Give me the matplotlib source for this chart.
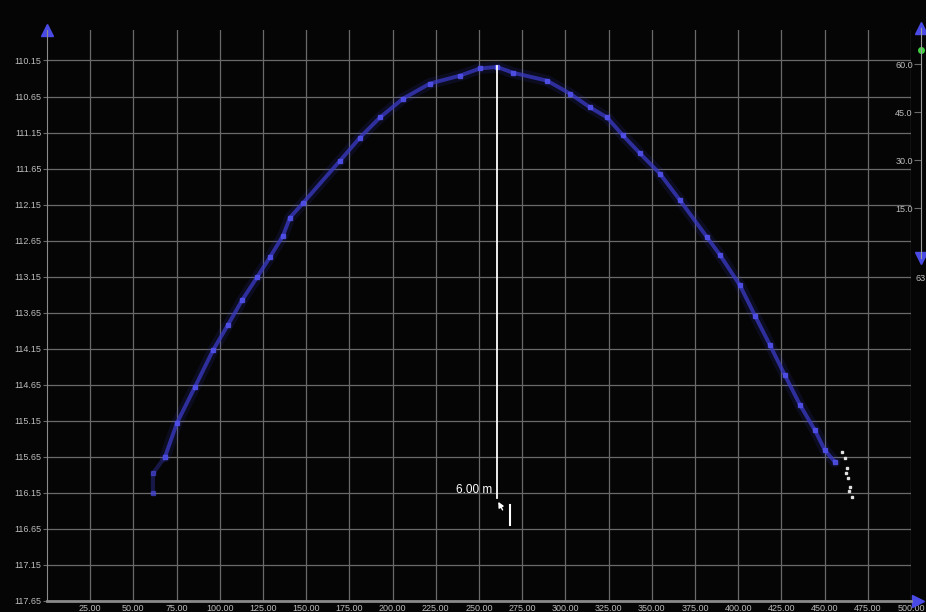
import numpy as np
import matplotlib.pyplot as plt

# Profile (distance along track, depth)
left_x = [61.3, 61.3, 68.3, 75.2, 85.6, 96.1, 104.7, 112.8, 121.5, 129.0,
          136.6, 140.6, 148.1, 169.6, 181.1, 192.7, 206.0, 221.6, 239.0, 250.6, 260.4]
left_d = [116.15, 115.88, 115.65, 115.18, 114.68, 114.17, 113.82, 113.48, 113.16, 112.88,
          112.58, 112.33, 112.13, 111.54, 111.22, 110.94, 110.68, 110.47, 110.36, 110.26, 110.24]
right_x = [260.4, 269.7, 289.4, 302.7, 314.2, 324.1, 333.3, 343.2, 354.7, 366.3,
           381.9, 389.5, 401.0, 409.7, 418.4, 427.1, 435.8, 444.4, 450.2, 456.0]
right_d = [110.24, 110.32, 110.43, 110.61, 110.80, 110.94, 111.19, 111.44, 111.72, 112.09,
           112.60, 112.85, 113.27, 113.69, 114.10, 114.52, 114.93, 115.28, 115.56, 115.72]
# white returns at the far right end
tail_x = [460.1, 461.8, 463.0, 462.4, 463.5, 464.7, 464.1, 465.9]
tail_d = [115.58, 115.67, 115.81, 115.88, 115.95, 116.07, 116.13, 116.21]

# measurement line
meas_x = 260.4
meas_top = 110.22
meas_len = 6.00

y_ticks = [110.15, 110.65, 111.15, 111.65, 112.15, 112.65, 113.15, 113.65,
           114.15, 114.65, 115.15, 115.65, 116.15, 116.65, 117.15, 117.65]
x_ticks = list(range(25, 525, 25))

# colour scale on the right
scale_ticks = [15.0, 30.0, 45.0, 60.0]
scale_marker = 64.5

BG = '#050505'
GRID = '#6a6a6a'
TXT = '#bdbdbd'
BLUE = '#3a3ac8'

fig = plt.figure(figsize=(9.26, 6.12), dpi=100, facecolor=BG)
W, H = 926, 612
ax = fig.add_axes([47 / W, 1 - 601 / H, (911 - 47) / W, (601 - 29.5) / H], facecolor=BG)
ax.set_xlim(0, 500)
ax.set_ylim(117.65, 109.72)

ax.set_yticks(y_ticks)
ax.set_yticklabels([f"{v:.2f}" for v in y_ticks])
ax.set_xticks(x_ticks)
ax.set_xticklabels([f"{v:.2f}" for v in x_ticks])
ax.tick_params(axis='y', colors=GRID, labelcolor=TXT, labelsize=6.5, length=3, pad=1)
ax.tick_params(axis='x', colors=GRID, labelcolor=TXT, labelsize=6.5, length=0, pad=2)
for t in ax.get_yticklabels() + ax.get_xticklabels():
    t.set_fontfamily('Liberation Sans')

ax.grid(True, color=GRID, lw=0.9)
for s in ['top', 'right']:
    ax.spines[s].set_visible(False)
ax.spines['left'].set_color('#8a8a8a')
ax.spines['bottom'].set_color('#8a8a8a')
ax.spines['bottom'].set_linewidth(2)

# axis arrows
ax.plot([0], [1.0], marker='^', color='#4a4ae6', ms=8, transform=ax.transAxes, clip_on=False)
ax.plot([1.008], [0], marker='>', color='#4a4ae6', ms=8, transform=ax.transAxes, clip_on=False)

# the sounding profile (faint at the far left end)
prof_x = left_x[2:] + right_x[1:]
prof_d = left_d[2:] + right_d[1:]
ax.plot(prof_x, prof_d, color=BLUE, lw=8, alpha=0.14, solid_capstyle='round')
ax.plot(prof_x, prof_d, color=BLUE, lw=2.8, alpha=0.75, solid_capstyle='butt')
ax.plot(prof_x, prof_d, 's', color='#5252ee', ms=2.4, alpha=0.85, lw=0)
ax.plot(left_x[:3], left_d[:3], color=BLUE, lw=3, alpha=0.35)
ax.plot(left_x[:3], left_d[:3], 's', color='#4a4ae0', ms=3, alpha=0.6, lw=0)
ax.plot(tail_x, tail_d, 's', color='#e0e0e0', ms=1.6, lw=0)

# measurement
ax.plot([meas_x, meas_x], [meas_top, meas_top + meas_len], color='white', lw=1.3)
ax.text(meas_x - 2.5, meas_top + meas_len - 0.03, f"{meas_len:.2f} m", color='white',
        fontsize=8.5, ha='right', va='bottom', family='Liberation Sans')
ax.annotate('', xy=(meas_x, meas_top + meas_len + 0.02),
            xytext=(meas_x + 4, meas_top + meas_len + 0.2),
            arrowprops=dict(arrowstyle='-|>', color='white', lw=1, mutation_scale=8))
ax.plot([meas_x + 7.5, meas_x + 7.5], [meas_top + meas_len + 0.1, meas_top + meas_len + 0.38],
        color='white', lw=1.5)

# right colour scale
ax2 = fig.add_axes([921 / W, 1 - 258 / H, 0.0001, (258 - 28) / H], facecolor='none')
ax2.set_ylim(-0.6, 71.25)
ax2.set_xticks([])
ax2.set_yticks(scale_ticks)
ax2.set_yticklabels([f"{v:.1f}" for v in scale_ticks])
ax2.tick_params(axis='y', colors=GRID, labelcolor=TXT, labelsize=6.5, length=5, pad=1)
for t in ax2.get_yticklabels():
    t.set_fontfamily('Liberation Sans')
for s in ['top', 'right', 'bottom']:
    ax2.spines[s].set_visible(False)
ax2.spines['left'].set_color('#9a9a9a')
ax2.plot([0], [1.0], marker='^', color='#4a4ae6', ms=8, transform=ax2.transAxes, clip_on=False)
ax2.plot([0], [0.0], marker='v', color='#4a4ae6', ms=8, transform=ax2.transAxes, clip_on=False)
ax2.plot([0], [scale_marker], 'o', color='#40d040', ms=4, clip_on=False)
ax2.text(0, -0.07, "63", transform=ax2.transAxes, color=TXT, fontsize=6.5,
         ha='center', va='top', family='Liberation Sans')

fig.savefig('out.png', dpi=100, facecolor=BG)
